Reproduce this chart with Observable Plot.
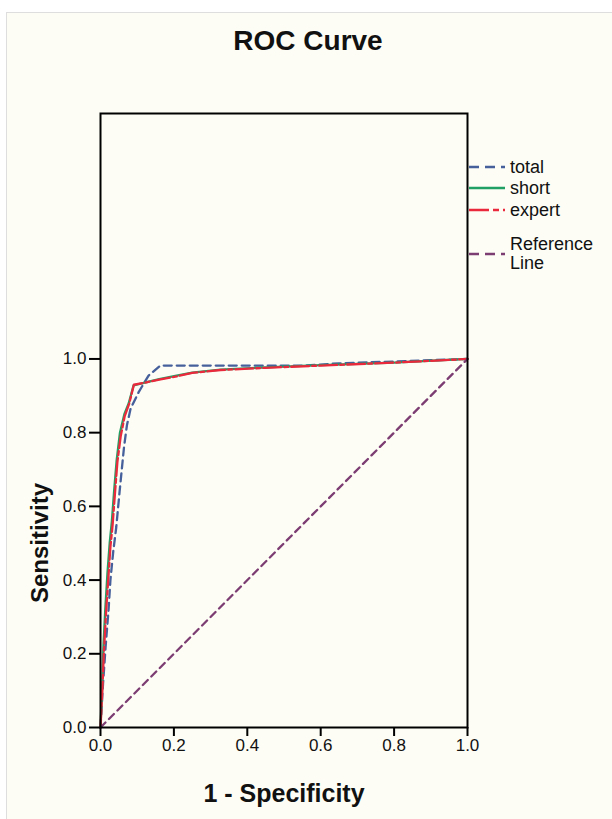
<!DOCTYPE html>
<html>
<head>
<meta charset="utf-8">
<script src="https://cdn.jsdelivr.net/npm/d3@7"></script>
<script src="https://cdn.jsdelivr.net/npm/@observablehq/plot@0.6"></script>
<style>
  html, body { margin: 0; padding: 0; background: #ffffff; width: 612px; height: 819px; overflow: hidden; }
  body { position: relative; font-family: "Liberation Sans", Arial, sans-serif; }
  #card { position: absolute; left: 6px; top: 12px; width: 640px; height: 840px; background: #fdfdf5; border: 1.5px solid #dedede; }
  #chart { position: absolute; left: 0; top: 0; }
  #chart svg g[aria-label="x-axis tick label"] text,
  #chart svg g[aria-label="y-axis tick label"] text { font-size: 17px; fill: #111; }
  #chart svg g[aria-label="x-axis label"] text { font-size: 25px; font-weight: bold; fill: #111; }
  #title { position: absolute; left: 0; width: 616px; top: 25px; text-align: center; font-weight: bold; font-size: 28px; color: #111; }
  #ylabel { position: absolute; left: 40px; top: 543px; transform: translate(-50%, -50%) rotate(-90deg); font-weight: bold; font-size: 24px; color: #111; white-space: nowrap; }
  #legend { position: absolute; left: 468px; top: 156px; font-size: 18px; color: #111; }
  .item { position: absolute; left: 0; display: flex; align-items: center; white-space: nowrap; }
  .item svg { margin-right: 4px; }
</style>
</head>
<body>
<div id="card"></div>
<div id="chart"></div>
<div id="title">ROC Curve</div>
<div id="ylabel">Sensitivity</div>
<div id="legend"></div>
<script>
// ROC data (1 - specificity, sensitivity)
const totalFpr = [0, 0.007, 0.014, 0.022, 0.027, 0.035, 0.043, 0.052, 0.058, 0.064, 0.072, 0.082, 0.104, 0.131, 0.163, 0.55, 0.65, 1.0];
const totalTpr = [0, 0.12, 0.22, 0.32, 0.40, 0.48, 0.544, 0.64, 0.70, 0.76, 0.82, 0.865, 0.91, 0.955, 0.982, 0.982, 0.988, 1.0];

const shortFpr = [0, 0.004, 0.008, 0.013, 0.019, 0.025, 0.031, 0.037, 0.044, 0.053, 0.065, 0.077, 0.090, 0.118, 0.16, 0.204, 0.25, 0.327, 0.45, 0.6, 0.8, 1.0];
const shortTpr = [0, 0.10, 0.22, 0.32, 0.42, 0.50, 0.56, 0.64, 0.725, 0.80, 0.85, 0.88, 0.928, 0.935, 0.945, 0.954, 0.963, 0.971, 0.977, 0.983, 0.99, 1.0];

const expertFpr = [0, 0.005, 0.009, 0.015, 0.021, 0.027, 0.033, 0.039, 0.046, 0.055, 0.066, 0.078, 0.091, 0.118, 0.16, 0.204, 0.25, 0.327, 0.45, 0.6, 0.8, 1.0];
const expertTpr = [0, 0.10, 0.20, 0.31, 0.40, 0.49, 0.55, 0.63, 0.72, 0.79, 0.845, 0.878, 0.93, 0.935, 0.944, 0.952, 0.962, 0.970, 0.976, 0.982, 0.99, 1.0];

const refFpr = [0, 1];
const refTpr = [0, 1];

const tickValues = [0, 0.2, 0.4, 0.6, 0.8, 1.0];
const seriesNames = ["total", "short", "expert", "Reference Line"];
const seriesColors = ["#46609c", "#21a065", "#ea2a3c", "#7c3d72"];
const seriesDash = ["8,5", null, "18,3,4,3", "7,5"];

const toRows = (xs, ys, name) => xs.map((x, i) => ({x, y: ys[i], name}));
const totalRows = toRows(totalFpr, totalTpr, "total");
const shortRows = toRows(shortFpr, shortTpr, "short");
const expertRows = toRows(expertFpr, expertTpr, "expert");
const refRows = toRows(refFpr, refTpr, "Reference Line");

const font = "'Liberation Sans', Arial, sans-serif";

const chart = Plot.plot({
  width: 612,
  height: 819,
  marginLeft: 100,
  marginRight: 145,
  marginTop: 113,
  marginBottom: 92,
  style: { background: "transparent", fontFamily: font, fontSize: "17px", color: "#111" },
  x: { domain: [0, 1] },
  y: { domain: [0, 1.666] },
  marks: [
    Plot.line(totalRows, {x: "x", y: "y", stroke: seriesColors[0], strokeWidth: 2.3, strokeDasharray: seriesDash[0]}),
    Plot.line(shortRows, {x: "x", y: "y", stroke: seriesColors[1], strokeWidth: 2.3}),
    Plot.line(expertRows, {x: "x", y: "y", stroke: seriesColors[2], strokeWidth: 2.3, strokeDasharray: seriesDash[2]}),
    Plot.line(refRows, {x: "x", y: "y", stroke: seriesColors[3], strokeWidth: 2.3, strokeDasharray: seriesDash[3]}),
    Plot.frame({stroke: "#000", strokeWidth: 2}),
    Plot.axisX({ticks: tickValues, tickFormat: d3.format(".1f"), tickSize: 9, tickPadding: 2, stroke: "#000", strokeWidth: 2, label: "1 - Specificity", labelAnchor: "center", labelArrow: "none", labelOffset: 74}),
    Plot.axisY({ticks: tickValues, tickFormat: d3.format(".1f"), tickSize: 11, tickPadding: 3, stroke: "#000", strokeWidth: 2, label: null})
  ]
});
document.getElementById("chart").appendChild(chart);

// legend
const legend = document.getElementById("legend");
const legendTops = [167, 188, 210, 245];
seriesNames.forEach((name, i) => {
  const item = document.createElement("div");
  item.className = "item";
  item.style.top = (legendTops[i] - 156 - 10) + "px";
  const svgNS = "http://www.w3.org/2000/svg";
  const svg = document.createElementNS(svgNS, "svg");
  svg.setAttribute("width", 38); svg.setAttribute("height", 20);
  const ln = document.createElementNS(svgNS, "line");
  ln.setAttribute("x1", 1); ln.setAttribute("x2", 37); ln.setAttribute("y1", 10); ln.setAttribute("y2", 10);
  ln.setAttribute("stroke", seriesColors[i]); ln.setAttribute("stroke-width", 2.5);
  if (seriesDash[i]) ln.setAttribute("stroke-dasharray", i === 2 ? "20,4,6,4" : "10,6");
  svg.appendChild(ln);
  item.appendChild(svg);
  const label = document.createElement("div");
  if (name === "Reference Line") {
    label.innerHTML = "Reference<br>Line";
    label.style.lineHeight = "19px";
  } else {
    label.textContent = name;
    label.style.lineHeight = "20px";
  }
  item.appendChild(label);
  legend.appendChild(item);
});
</script>
</body>
</html>
